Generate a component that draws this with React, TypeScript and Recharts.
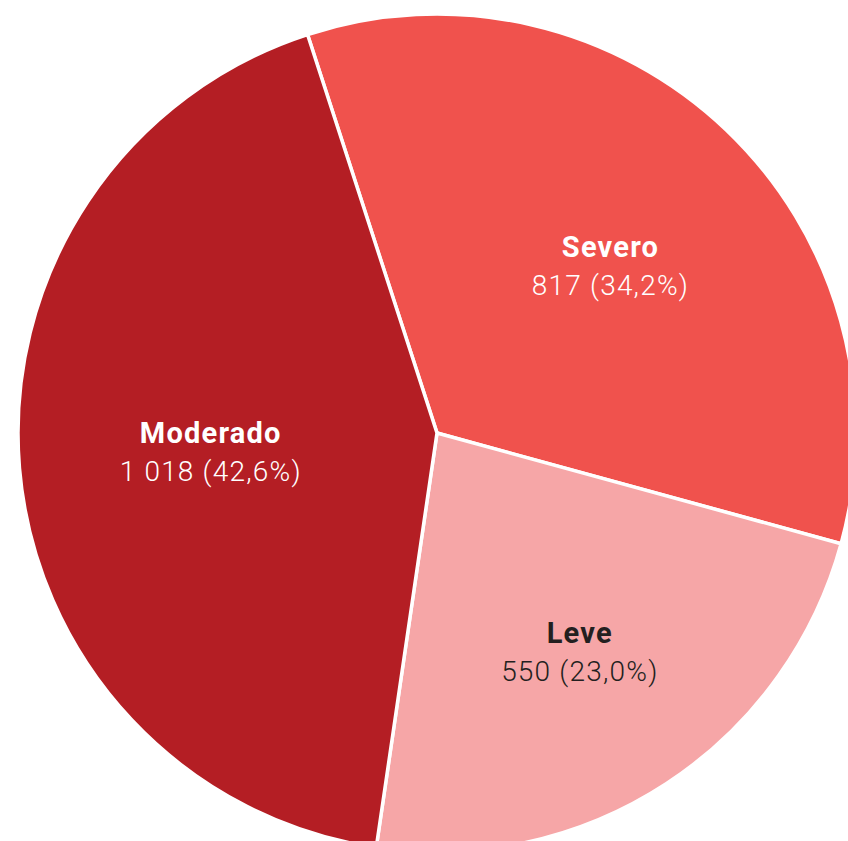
import React from "react";
import { PieChart, Pie, Cell } from "recharts";

const categories = ["Severo", "Leve", "Moderado"];
const values = [817, 550, 1018];
const percentLabels = ["34,2%", "23,0%", "42,6%"];
const valueLabels = ["817", "550", "1 018"];
const colors = ["#F0524D", "#F6A6A7", "#B41E24"];
const textColors = ["#FFFFFF", "#231F20", "#FFFFFF"];

// label placement tweaks (style, not data)
const labelRadiusFactor = [0.575, 0.623, 0.542];
const labelAngleShift = [-2.4, 0, 0];

const data = categories.map((name, i) => ({ name, value: values[i] }));

const RAD = Math.PI / 180;

const renderLabel = (props: any) => {
  const { cx, cy, midAngle, outerRadius, index } = props;
  const r = outerRadius * labelRadiusFactor[index];
  const a = midAngle + labelAngleShift[index];
  const x = cx + r * Math.cos(-a * RAD);
  const y = cy + r * Math.sin(-a * RAD);
  const fill = textColors[index];
  return (
    <text
      x={x}
      y={y}
      textAnchor="middle"
      fill={fill}
      style={{ fontFamily: "Roboto, 'Noto Sans', sans-serif" }}
    >
      <tspan x={x} y={y - 9} fontSize={29} fontWeight={700} letterSpacing={1.2}>
        {categories[index]}
      </tspan>
      <tspan x={x} y={y + 29} fontSize={28} fontWeight={300} letterSpacing={1.2}>
        {`${valueLabels[index]} (${percentLabels[index]})`}
      </tspan>
    </text>
  );
};

export default function App() {
  return (
    <div style={{ position: "absolute", left: 0, top: 0, width: 848, height: 841, background: "#fff" }}>
      <PieChart width={848} height={841} margin={{ top: 0, right: 0, bottom: 0, left: 0 }}>
        <Pie
          data={data}
          dataKey="value"
          nameKey="name"
          cx={437}
          cy={433}
          outerRadius={419}
          startAngle={108}
          endAngle={-252}
          stroke="#FFFFFF"
          strokeWidth={3.5}
          label={renderLabel}
          labelLine={false}
          isAnimationActive={false}
        >
          {data.map((d, i) => (
            <Cell key={d.name} fill={colors[i]} />
          ))}
        </Pie>
      </PieChart>
    </div>
  );
}
